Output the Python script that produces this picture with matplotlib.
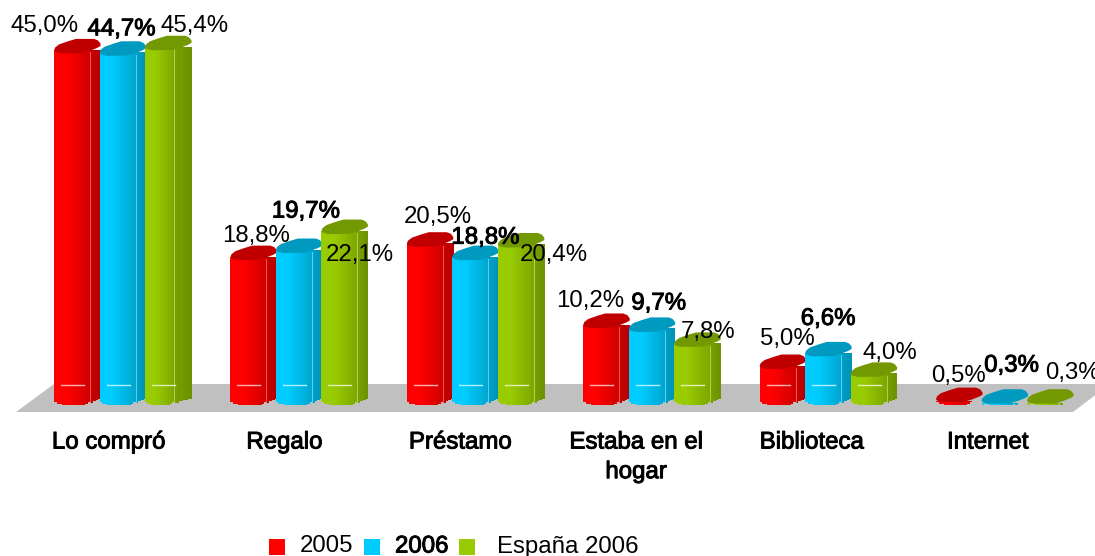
import numpy as np
import matplotlib
matplotlib.use("Agg")
import matplotlib.pyplot as plt
import matplotlib.patheffects as pe
from matplotlib.colors import to_rgb

plt.rcParams['font.family'] = ['Liberation Sans', 'DejaVu Sans']

categories = ["Lo compró", "Regalo", "Préstamo", "Estaba en el\nhogar", "Biblioteca", "Internet"]
series_names = ["2005", "2006", "España 2006"]
v2005 = [45.0, 18.8, 20.5, 10.2, 5.0, 0.5]
v2006 = [44.7, 19.7, 18.8, 9.7, 6.6, 0.3]
vesp = [45.4, 22.1, 20.4, 7.8, 4.0, 0.3]

# label offsets from the top of each bar, in pixels
off2005 = [(-32, 24), (3, 21), (8, 26), (-16, 24), (5, 27), (0, 25)]
off2006 = [(-1, 23), (7, 38), (10, 19), (7, 25), (0, 34), (7, 37)]
offesp = [(27, 21), (15, -24), (33, -11), (11, 11), (16, 20), (22, 30)]

cols = ["#ff0000", "#00ccff", "#99cc00"]
tops = ["#c00000", "#0099bf", "#739900"]

px_x = 176.4   # pixels per category
px_y = 7.89    # pixels per percent
x0 = 54
y0 = 405

fig = plt.figure(figsize=(10.95, 5.56), dpi=100)
ax = fig.add_axes([0, 0, 1, 1])
ax.set_xlim(-x0 / px_x, (1095 - x0) / px_x)
ax.set_ylim((y0 - 556) / px_y, y0 / px_y)
ax.axis("off")


def X(p):
    return (p - x0) / px_x


def Y(p):
    return (y0 - p) / px_y


# floor
ax.fill([X(54), X(1110), X(1073), X(16)], [Y(384), Y(384), Y(412), Y(412)], color="#c0c0c0", lw=0, zorder=1)


def column(xleft, val, c, ctop, z, front=36):
    c = np.array(to_rgb(c))
    fw, sw = front / px_x, (46.5 - front) / px_x
    n = 14
    for k in range(n):
        u = k / n
        f = 1.0 if u < 0.3 else 1.0 - 0.2 * (u - 0.3) / 0.7
        b = 0.0
        if u < 0.07 or u > 0.92:
            b = 0.4
        elif u < 0.15 or u > 0.85:
            b = 0.15
        if val <= b:
            b = 0.0
        ax.bar(xleft + u * fw, val - b, fw / n * 1.15, bottom=b, align="edge", color=c * f, lw=0, zorder=z)
    if val > 1:
        for k in range(4):
            b = 0.3 + 0.15 * k
            ax.bar(xleft + fw + k * sw / 4, val - b, sw / 4 * 1.1, bottom=b, align="edge",
                   color=c * (0.78 - 0.02 * k), lw=0, zorder=z)
        # light edge between front and side
        ax.plot([xleft + fw, xleft + fw], [0.4, val - 0.3], color=c * 0.5 + 0.5, lw=0.7, alpha=0.7, zorder=z)
    if val > 3:
        ax.plot([xleft + 7 / px_x, xleft + 30 / px_x], [2.5, 2.5], color=c * 0.3 + 0.7, lw=1, zorder=z)
    # top cap, lifted a bit on the flat bars so the front still shows
    lift = 0.3 if val < 1 else 0.0
    dx = np.array([0, 1, 5, 14, 22, 40, 44, 46.5, 46.5, 43, 36, 28, 8, 2, 0]) / px_x
    dy = np.array([-0.1, 0.3, 0.7, 1.1, 1.4, 1.4, 1.2, 0.8, 0.5, 0.25, -0.1, -0.4, -0.45, -0.3, -0.1])
    ax.fill(xleft + dx, val + dy + lift, color=ctop, lw=0, zorder=z + 0.1)


vals = [v2005, v2006, vesp]
offs = [off2005, off2006, offesp]
shift = [0, 45.5 / px_x, 91 / px_x]
stroke = [pe.withStroke(linewidth=0.7, foreground="black")]

for s in range(3):
    for i in range(6):
        xl = i + shift[s]
        fr = 29 if (s == 2 and i == 0) else 36
        column(xl, vals[s][i], cols[s], tops[s], 2 + s, front=fr)
        txt = f"{vals[s][i]:.1f}%".replace(".", ",")
        t = ax.annotate(txt, xy=(xl + 23 / px_x, vals[s][i]), xytext=offs[s][i], textcoords="offset pixels",
                        ha="center", va="center", fontsize=17.3, color="black", zorder=10)
        if s == 1:
            t.set_path_effects(stroke)

for i, name in enumerate(categories):
    ax.text(i * 0.9965 + 0.31, Y(431.5), name, ha="center", va="top", fontsize=17.3, color="black", linespacing=1.45,
            path_effects=stroke, zorder=10)

# legend
leg_sq = [269, 364, 459]
leg_tx = [300, 395, 497]
for s in range(3):
    ax.bar(X(leg_sq[s]), 16 / px_y, 16 / px_x, bottom=Y(555), align="edge", color=cols[s], lw=0, zorder=5)
    t = ax.text(X(leg_tx[s]), Y(546.5), series_names[s], ha="left", va="center", fontsize=17.3, color="black", zorder=10)
    if s == 1:
        t.set_path_effects(stroke)

fig.savefig("out.png", dpi=100)
